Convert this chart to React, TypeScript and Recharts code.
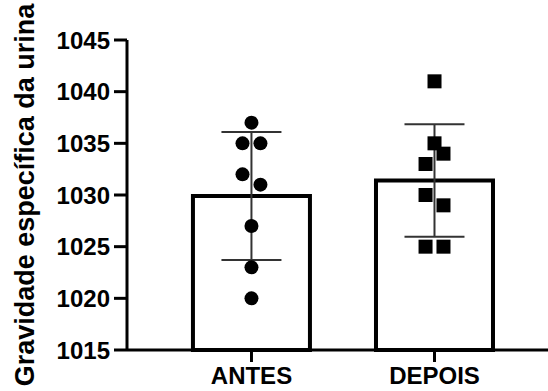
import {
  Bar,
  ComposedChart,
  ErrorBar,
  Scatter,
  XAxis,
  YAxis,
} from "recharts";

const groups = ["ANTES", "DEPOIS"];
const means = [1029.9, 1031.4];
const sds = [6.2, 5.45];
const antesValues = [1037, 1035, 1035, 1032, 1031, 1027, 1023, 1020];
const depoisValues = [1041, 1035, 1034, 1033, 1030, 1029, 1025, 1025];
const yTicks = [1015, 1020, 1025, 1030, 1035, 1040, 1045];
const yTitle = "Gravidade específica da urina";

// horizontal spread of overlapping points (in steps)
const antesJitter = [0, -1, 1, -1, 1, 0, 0, 0];
const depoisJitter = [0, 0, 1, -1, -1, 1, -1, 1];
const JITTER_STEP = 0.049;
const X_DOMAIN = [0.32, 2.62];

const barData = groups.map((g, i) => ({ x: i + 1, mean: means[i], sd: sds[i] }));
const antesPoints = antesValues.map((v, i) => ({ x: 1 + antesJitter[i] * JITTER_STEP, y: v }));
const depoisPoints = depoisValues.map((v, i) => ({ x: 2 + depoisJitter[i] * JITTER_STEP, y: v }));

const FONT = "'Liberation Sans', Arial, sans-serif";

const Dot = (props: any) => <circle cx={props.cx} cy={props.cy} r={7} fill="#000" />;
const Square = (props: any) => (
  <rect x={props.cx - 7} y={props.cy - 7} width={14} height={14} fill="#000" />
);

const TitleLabel = () => (
  <text
    transform="translate(34,195) rotate(-90)"
    textAnchor="middle"
    fontFamily={FONT}
    fontWeight="bold"
    fontSize={27}
    fill="#000"
  >
    {yTitle}
  </text>
);

const App = () => {
  return (
    <div style={{ position: "absolute", left: 0, top: 0 }}>
      <ComposedChart
        width={548}
        height={391}
        data={barData}
        margin={{ top: 40, right: 0, left: 0, bottom: 0 }}
      >
        <XAxis
          xAxisId="bars"
          type="number"
          dataKey="x"
          domain={X_DOMAIN}
          allowDataOverflow
          ticks={[1, 2]}
          interval={0}
          tickFormatter={(v) => groups[v - 1]}
          height={41}
          tickSize={12}
          tickMargin={5}
          axisLine={{ stroke: "#000", strokeWidth: 3 }}
          tickLine={{ stroke: "#000", strokeWidth: 3 }}
          tick={{ fill: "#000", fontSize: 24, fontWeight: "bold", fontFamily: FONT }}
        />
        <XAxis
          xAxisId="points"
          type="number"
          dataKey="x"
          domain={X_DOMAIN}
          allowDataOverflow
          hide
        />
        <YAxis
          type="number"
          domain={[1015, 1045]}
          ticks={yTicks}
          interval={0}
          width={127}
          tickSize={13}
          tickMargin={4}
          axisLine={{ stroke: "#000", strokeWidth: 3 }}
          tickLine={{ stroke: "#000", strokeWidth: 3 }}
          tick={{ fill: "#000", fontSize: 24, fontWeight: "bold", fontFamily: FONT }}
          label={{ content: () => <TitleLabel /> }}
        />
        <Bar
          xAxisId="bars"
          dataKey="mean"
          barSize={117}
          fill="#fff"
          stroke="#000"
          strokeWidth={4}
          isAnimationActive={false}
        >
          <ErrorBar dataKey="sd" width={30} stroke="#333" strokeWidth={2} direction="y" />
        </Bar>
        <Scatter xAxisId="points" data={antesPoints} dataKey="y" shape={Dot} isAnimationActive={false} />
        <Scatter xAxisId="points" data={depoisPoints} dataKey="y" shape={Square} isAnimationActive={false} />
      </ComposedChart>
    </div>
  );
};

export default App;
